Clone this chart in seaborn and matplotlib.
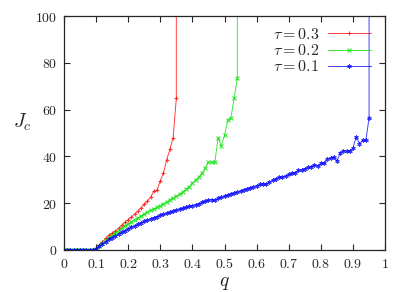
import numpy as np
import pandas as pd
import seaborn as sns
import matplotlib
matplotlib.use("Agg")
import matplotlib.pyplot as plt
from matplotlib.ticker import FuncFormatter, MultipleLocator

# critical current J_c vs q for three tau values
q_zero = [0.0, 0.01, 0.02, 0.03, 0.04, 0.05, 0.06, 0.07, 0.08, 0.09]

jc_03 = [0.5, 2, 3.5, 5, 6.3, 7.2, 8, 9.2, 10.5, 11.8, 13, 14, 15.3, 16.5,
         18, 19.5, 21, 22.5, 25.2, 25.5, 29.5, 33, 38.5, 43, 48, 65]

jc_02 = [0.5, 1.8, 3, 4.2, 5.3, 6.3, 7.3, 8.3, 9.3, 10.3, 11.2, 12, 13, 13.8,
         14.5, 15.3, 16.2, 17, 17.5, 18.2, 19, 19.8, 20.5, 21.5, 22.3, 23,
         23.8, 24.8, 26, 27, 28.5, 30, 31, 33, 35, 37.5, 37.5, 37.5, 48, 44.5,
         49, 55.5, 56.5, 65, 73.5]

jc_01 = [0.5, 1.5, 2.5, 3.5, 4.5, 5.3, 6, 6.8, 7.5, 8.3, 9, 9.7, 10.3, 11,
         11.5, 12.2, 12.8, 13.3, 13.8, 14.3, 14.8, 15.2, 15.7, 16.2, 16.6, 17,
         17.4, 17.8, 18.2, 18.6, 19, 19.4, 19.8, 20.3, 20.8, 21.3, 21.5, 21.2,
         22, 22.5, 23, 23.5, 24, 24.3, 24.7, 25.2, 25.7, 26.2, 26.6, 27, 27.5,
         28, 28.3, 28, 29, 29.8, 30.5, 31, 31.2, 31.5, 32.3, 32.8, 33, 34,
         34.2, 34.8, 35.3, 35.5, 36.5, 35.8, 37, 37, 39, 39.3, 39.7, 38, 41.5,
         42.3, 42.3, 42.3, 43.5, 48.5, 45.5, 46.8, 46.8, 56.5]

# where each curve blows up (vertical line to the top)
q_div = {"0.3": 0.35, "0.2": 0.54, "0.1": 0.95}
series = {"0.3": jc_03, "0.2": jc_02, "0.1": jc_01}
colors = {"0.3": "#ff0000", "0.2": "#00e000", "0.1": "#0000ff"}
markers = {"0.3": "+", "0.2": "x", "0.1": (6, 2, 0)}

sns.set_style("ticks")
plt.rcParams["font.family"] = ["DejaVu Serif"]
plt.rcParams["mathtext.fontset"] = "cm"

fig = plt.figure(figsize=(4.15, 2.92), dpi=100)
ax = fig.add_axes([0.154, 0.144, 0.774, 0.801])

for tau in ["0.3", "0.2", "0.1"]:
    vals = series[tau]
    qs = q_zero + [round(0.10 + 0.01 * i, 2) for i in range(len(vals))]
    js = [0.0] * len(q_zero) + vals
    qs = qs + [q_div[tau]]
    js = js + [1000.0]
    df = pd.DataFrame({"q": qs, "Jc": js})
    sns.lineplot(data=df, x="q", y="Jc", ax=ax, sort=False, estimator=None,
                 color=colors[tau], linewidth=0.7, alpha=0.75,
                 marker=markers[tau], markersize=3, markeredgewidth=0.8,
                 markeredgecolor=colors[tau],
                 label=r"$\tau = %s$" % tau)

ax.set_xlim(0, 1)
ax.set_ylim(0, 100)
ax.xaxis.set_major_locator(MultipleLocator(0.1))
ax.yaxis.set_major_locator(MultipleLocator(20))
ax.xaxis.set_major_formatter(FuncFormatter(lambda v, p: "$%g$" % round(v, 2)))
ax.yaxis.set_major_formatter(FuncFormatter(lambda v, p: "$%g$" % v))
ax.tick_params(direction="in", top=True, right=True, length=4,
               labelsize=10, pad=5)
for s in ax.spines.values():
    s.set_linewidth(0.9)

ax.set_xlabel("$q$", fontsize=14, labelpad=2)
ax.set_ylabel("$J_c$", fontsize=14, rotation=0, labelpad=14)
ax.yaxis.set_label_coords(-0.13, 0.5)

ax.legend(loc="upper right", frameon=False, markerfirst=False,
          fontsize=11.5, handlelength=2.7, handletextpad=0.5,
          labelspacing=-0.05, borderaxespad=0.0,
          bbox_to_anchor=(0.975, 0.985))

fig.savefig("out.png", dpi=100)
